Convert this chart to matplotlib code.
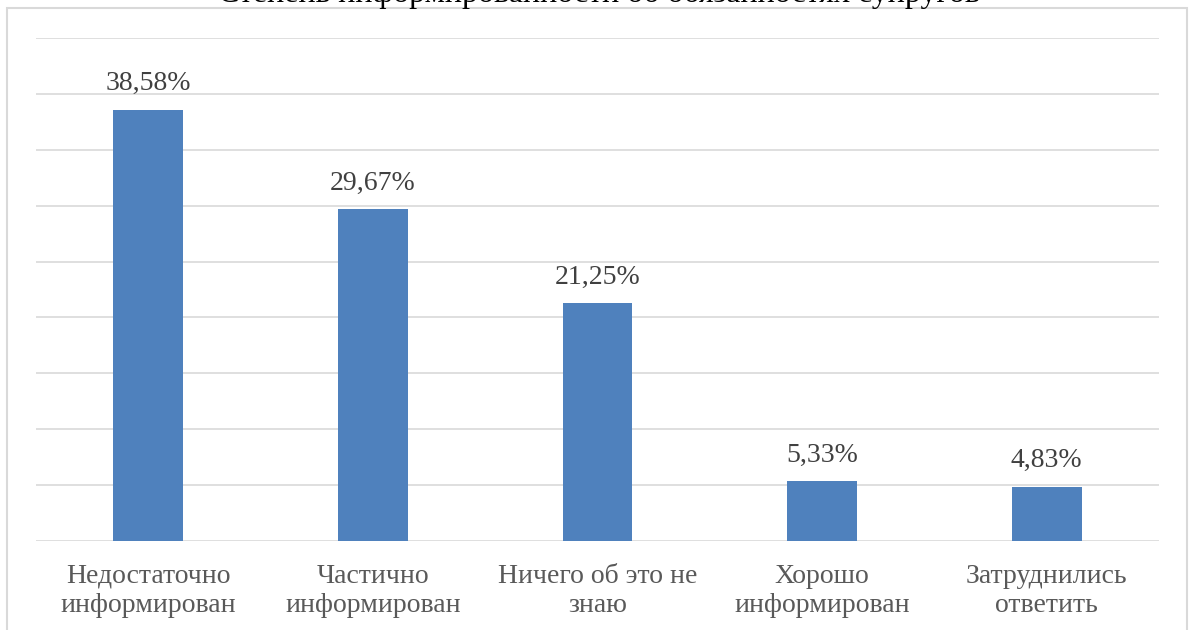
import matplotlib
matplotlib.use("Agg")
import matplotlib.pyplot as plt
from matplotlib.patches import Rectangle

categories = ["Недостаточно\nинформирован", "Частично\nинформирован",
              "Ничего об это не\nзнаю", "Хорошо\nинформирован",
              "Затруднились\nответить"]
values = [38.58, 29.67, 21.25, 5.33, 4.83]
value_labels = ["38,58%", "29,67%", "21,25%", "5,33%", "4,83%"]
title = "Степень информированности об обязанностях супругов"

plt.rcParams['font.family'] = ['Liberation Serif', 'DejaVu Serif']

W, H = 1189, 630
fig = plt.figure(figsize=(W/100, H/100), dpi=100)
fig.patch.set_facecolor("white")

# outer chart frame
fig.patches.append(Rectangle((7/W, -0.05), (1187-7)/W, 1.05 - 8/H,
                             transform=fig.transFigure, fill=False,
                             edgecolor="#D9D9D9", linewidth=1.5))

ax = fig.add_axes([36/W, (H-541)/H, (1159-36)/W, (541-38)/H])
x = range(len(categories))
ax.bar(x, values, width=0.31, color="#4F81BD", zorder=3)
ax.set_xlim(-0.5, len(categories)-0.5)
ax.set_ylim(0, 45)
ax.set_yticks(range(0, 46, 5))
ax.yaxis.grid(True, color="#D9D9D9", linewidth=1.2, zorder=0)
ax.tick_params(axis='y', left=False, labelleft=False)
ax.tick_params(axis='x', bottom=False, labelsize=20, colors="#595959", pad=13)
ax.set_xticks(list(x))
ax.set_xticklabels(categories, linespacing=1.2)
for s in ax.spines.values():
    s.set_visible(False)

for xi, v, lab in zip(x, values, value_labels):
    ax.annotate(lab, (xi, v), xytext=(0, 10), textcoords="offset points",
                ha="center", va="bottom", fontsize=20, color="#404040")

fig.text(599/W, 1 - 2/H, title, ha="center", va="baseline", fontsize=23,
         color="black")

fig.savefig("out.png", dpi=100)
